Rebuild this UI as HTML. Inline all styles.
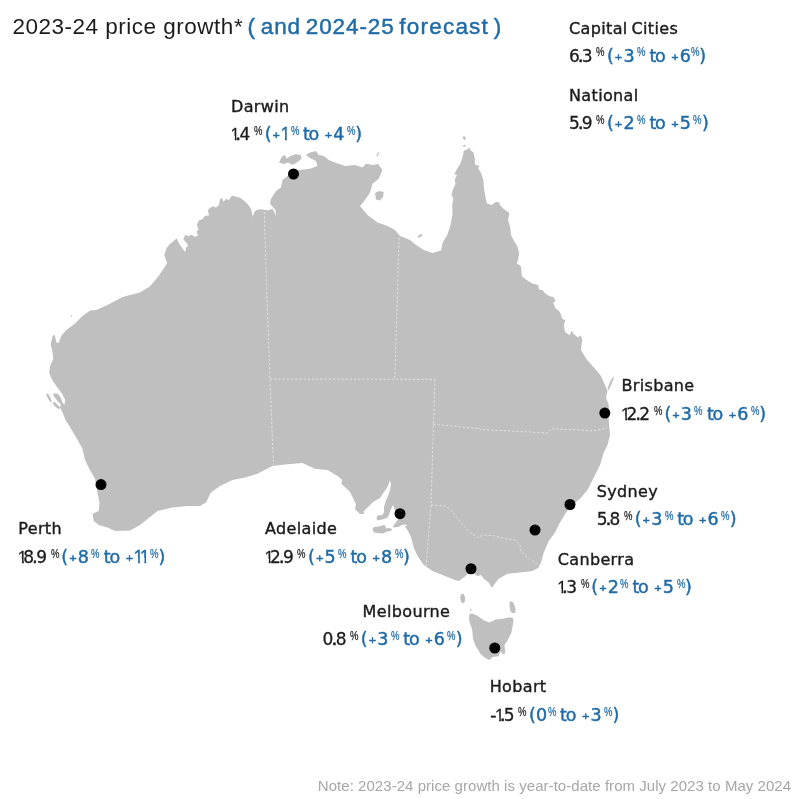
<!DOCTYPE html>
<html lang="en"><head><meta charset="utf-8"><title>2023-24 price growth</title>
<style>
html,body{margin:0;padding:0;background:#fff;}
body{width:800px;height:799px;position:relative;overflow:hidden;font-family:"Liberation Sans",Arial,sans-serif;color:#1c1c1c;}
svg{position:absolute;left:0;top:0;}
.t{position:absolute;white-space:nowrap;line-height:20px;height:20px;}
.title{left:12.5px;top:14px;font-size:22.5px;line-height:26px;height:26px;letter-spacing:0.5px;}
.blue{color:#1f6ba6;}
.title .blue{-webkit-text-stroke:0.45px #1f6ba6;margin-left:-2.3px;letter-spacing:0.9px;word-spacing:-2.4px;}
.nm{font-family:"DejaVu Sans","Liberation Sans",sans-serif;font-size:16px;letter-spacing:0.36px;word-spacing:-1.6px;-webkit-text-stroke:0.4px #1c1c1c;}
.vl{font-family:"DejaVu Sans","Liberation Sans",sans-serif;font-size:17px;letter-spacing:-0.6px;-webkit-text-stroke:0.3px #1c1c1c;}
.vl .blue{-webkit-text-stroke:0.45px #1f6ba6;margin-left:2.2px;font-size:17.5px;letter-spacing:-0.2px;}
.one{display:inline-block;font-family:"Liberation Sans",sans-serif;clip-path:polygon(0 0,0.35em 0,0.35em 100%,0.25em 100%,0.25em 55%,0 55%);margin:0 -3.4px 0 -1.2px;}
.one.f{margin-left:-0.4px;}
.one.d{margin-right:-2.6px;}
.one.o{margin-right:-2px;}
.one.e{margin-right:-2.4px;}
.zr{margin:0 0.5px;}
.dot{margin:0 -0.9px 0 -1.3px;-webkit-text-stroke:0.6px currentColor;}
.mn{margin:0 0.3px 0 0.6px;-webkit-text-stroke:0.5px #1c1c1c;}
.pc{display:inline-block;font-family:"Liberation Sans",sans-serif;font-size:13px;letter-spacing:0;position:relative;top:-5.2px;transform:scaleX(0.73);transform-origin:0 50%;margin:0 -3.15px 0 0.1px;-webkit-text-stroke:0.25px currentColor;}
.sp{font-family:"DejaVu Sans",sans-serif;font-size:8.2px;letter-spacing:0;line-height:0;-webkit-text-stroke:0;}
.pc.k{margin-left:1.7px;}
.pl{font-size:9.5px;letter-spacing:0;position:relative;top:-2px;margin:0 0.8px 0 1px;-webkit-text-stroke:0.55px #1f6ba6;}
.wd{margin:0 1.1px 0 -0.4px;letter-spacing:-1.2px;}
.note{left:317.8px;top:776px;font-size:15px;color:#a7a7a7;letter-spacing:0.045px;}
</style></head><body>

<svg width="800" height="799" viewBox="0 0 800 799">
<g fill="#bfbfbf" stroke="none">
<path d="M58.5 343 L61.5 335.5 L66 330.25 L75 323.5 L82.5 316 L90 310.5 L96.25 310 L107.5 305 L122.5 297 L140 292.5 L150 286.25 L157.5 277.5 L162.75 270 L167.25 263.25 L164.25 255 L166.5 248.25 L169.5 244.5 L174 240.75 L176.7 238.2 L178.5 242.25 L182.25 248.25 L185.25 252 L186 247.5 L188.25 246 L186 242.25 L183.3 239.25 L185.25 234.75 L188.25 236.25 L191.25 234.75 L195 236.7 L198 235.5 L196.5 231.75 L198.75 229.5 L196.8 225 L198.75 220.5 L202.5 219 L204.75 216 L209.25 215.25 L207.75 210.75 L210 207.75 L213.75 206.25 L216 207.75 L219 204.75 L219.75 199.5 L222 198 L223.5 201.75 L226.5 198.75 L228.75 200.25 L231.75 195.75 L235.5 196.5 L240 197.7 L244.5 201 L248.25 204.75 L251.25 209.25 L252.75 216.75 L254.25 212.25 L256.5 210 L261 209.25 L265.5 210 L268 210.5 L272.5 208.75 L275 213.75 L276 216 L275.5 210 L270 203.75 L271 198.75 L276 191 L281 187.5 L282.5 180 L287.5 176 L293 172 L300 170 L310 168.75 L317.5 166 L316 161 L310 158 L306 155 L310 152.5 L316 151 L318.75 155 L323.75 156 L328.75 160 L335 162.5 L345 166 L355 165 L362.5 167.5 L366 163.75 L372.5 165 L378 164 L382.5 170 L378.75 178.75 L372.5 183.75 L370 192.5 L365 200 L360 206 L367.5 215 L377.5 222.5 L387.5 226 L395 230 L400 236 L410 240 L416 245 L423.75 250 L432.5 253 L441 250.5 L442.75 242.5 L447.25 235 L450.25 226 L452.5 214 L452.2 205 L453.25 199 L451.5 194.5 L453.25 188.5 L455.5 184 L454.75 179.5 L457 175 L454.3 174.25 L457 169 L460.75 163 L463 155.5 L463.75 151 L466.75 149.5 L469.75 147.7 L470.5 150.25 L473.5 152.5 L474.7 158.5 L475 164.5 L479.5 166 L478 168.25 L481 172.75 L483.25 179.5 L484 188.5 L485.5 197.5 L487 203.5 L491.5 205 L496 202 L499 202 L499.75 205 L503.5 208.75 L509.5 213.25 L508 220 L510.25 227.5 L511 235 L514 241 L517.25 246 L519.2 253.5 L518 259.5 L516.8 263.25 L521 266.25 L521.75 276 L526.25 279.75 L532.25 283.5 L538.25 285 L539 289.5 L542.75 290.25 L545 293.25 L549.5 296.25 L553.25 297 L555.5 300.75 L553.25 303 L555.5 308.25 L560 312 L562.25 318.75 L565.25 320.25 L563.75 325.5 L565.25 332.25 L569.75 335.25 L571.25 330.75 L573.5 333.75 L578 337.5 L580.25 335.25 L582.2 339 L581 350.25 L587 359.85 L595 368.75 L601 376 L605 385 L607.5 391 L606 397.5 L608.75 405 L609 413 L608.75 420 L610 435 L607.5 445 L603.75 452.5 L600 465 L593.75 477.5 L587.5 490 L580 498.75 L572 505 L566 512.5 L560 522.5 L555 532.5 L548.75 541 L543.75 552.5 L541 562.5 L538.75 567.5 L532.5 571 L520 572.5 L507.5 573.75 L498.75 578.75 L493.75 585 L492 588 L488.75 582.5 L483.75 578.75 L481 575 L477.5 576 L473 573 L468 574 L463.75 577.5 L459 581 L455 580 L445 576 L432.5 571 L423.75 565 L417.5 556 L413.75 547.5 L411 537 L408 531 L405 526.5 L407 525.5 L406 524.5 L402 525 L398 527 L394.5 527.5 L393 526 L395.5 523 L398 519.5 L396 512 L394.5 509 L393 505 L391 509 L389 515 L387 518 L382 519.5 L377.5 520.5 L376.5 518.5 L377.5 515.5 L382.5 515 L384 512 L384 507 L385.5 502 L388 496 L390 490 L391 484 L389.7 480.5 L388 486 L384 492 L380 498 L373 502 L367 508 L363.5 511.5 L364 514 L360 514 L355 509 L356 504 L353 498 L350 492 L346 488 L341.5 484 L342 480 L340 478 L337.5 476 L327.5 470 L315 468.75 L302.5 463 L285 464.5 L272.5 466 L257.5 473.75 L245 477.5 L232.5 480 L220 486 L211 492.5 L206 502.5 L200 506 L187.5 506 L172.5 507.5 L157.5 511 L150 517 L140 525 L130 530.5 L115 531 L107.5 527.5 L98.75 525 L93.75 521 L92.5 513.75 L98.75 511 L99.5 502.5 L97.5 492.5 L95 478.75 L90 470 L85 460 L82.5 448.75 L76.25 437.5 L68.75 425 L66 421 L63 413.5 L60 407.5 L61.5 401.5 L64.5 404.5 L65.25 400 L62.25 394 L57.75 388 L52.5 380.5 L49.2 373 L50.25 365.5 L53.25 359.5 L52.5 352 L50.7 344.5 L52.5 336.25 L54.75 334.75 L56.25 342.25 Z"/>
<path d="M469.25 614.25 L472.25 613.5 L477.5 615.75 L483.5 620.25 L489.5 622.5 L495.5 619.5 L503 618.75 L510.5 617.25 L513.5 618.75 L512.75 625.5 L511.25 633 L507.5 640.5 L504.5 645 L505.25 653.25 L502.25 654 L500.75 651 L498.5 656.25 L492.5 657 L489.5 660 L485 657.75 L480.5 654 L476 646.5 L473 639 L472.25 630 L469.25 621 Z"/>
<path d="M279 162.5 L282 156.5 L285 155 L286.5 158.75 L289.5 156.5 L295.5 154.25 L300.75 155 L301.5 158.75 L297 162.5 L292.5 164.75 L288 162.5 L283.5 164 Z"/>
<path d="M375 193 L379 191 L383.75 192 L383 197 L380 200.5 L376 199.5 Z"/>
<path d="M417.5 236.5 L420 234.5 L422.5 234 L421.5 236.5 L418.5 237.8 Z"/>
<path d="M376.5 155.5 L378.5 152 L379.3 153 L377.5 156.5 Z"/>
<path d="M462.5 137 L464.5 136 L466 139 L464 140 Z"/>
<path d="M463 145.5 L465 144.5 L465.5 146.5 L463.5 147 Z"/>
<path d="M607.5 389 L609.5 383 L613 377 L614.2 377.5 L611.5 384 L608.8 390 Z"/>
<path d="M372.5 529 L374 527 L379 526.5 L384 525 L386 526.5 L385.5 528.5 L389 528 L392 529 L391 531 L387 531.5 L383 533.5 L378 533 L374 532.5 Z"/>
<path d="M460.5 600 L460.3 596.5 L461.5 594 L463.5 593.7 L465 597 L465 601 L463.5 603.3 L461.5 602.5 Z"/>
<path d="M509.5 602 L511.5 601.2 L513.5 603 L515.3 608 L515.5 612.5 L513 613.2 L510.5 611.5 L509.5 606 Z"/>
<path d="M470 609 L471.2 608.6 L471.5 611 L470.3 611.3 Z"/>
<path d="M46.2 394.3 L48 393.6 L50.4 397.75 L52 401.5 L50.25 402 L47.6 397.9 Z"/>
<path d="M52.4 402.7 L54.75 402.1 L57.75 405.1 L60.2 407.5 L58.8 409.2 L54.75 406.2 Z"/>
<path d="M53.25 393.25 L57.75 393.8 L60.75 397.75 L62.4 402.25 L60 403.9 L57 400.2 L54 396.4 Z"/>
<path d="M70.7 316.5 L71.8 315 L72.3 315.7 L71.2 317.2 Z"/>
</g>
<g fill="none" stroke="#e6e6e6" stroke-width="0.9" stroke-dasharray="2.2 2">
<path d="M264.3 212 L267 300 L270 378.5 L272.4 440 L273.6 465"/>
<path d="M399 237.5 L397 310 L394.7 378.8"/>
<path d="M270 379 L435 379.4"/>
<path d="M435 379.4 L433.5 424.4 L431 505 L426 567.5"/>
<path d="M433.5 424.4 L480 428.6 L480 429.5 L540 432.5 L547.5 433 L551 428.75 L580 430 L592.5 431 L607.5 428"/>
<path d="M431 505 L445 506 L447.5 507 L455 515 L462.5 525 L470 532.5 L477.5 537.5 L483.75 535 L495 536 L505 538.75 L515 540 L520 545 L521 551 L527.5 557.5 L540 566"/>
</g>
<g fill="#000">
<circle cx="293.5" cy="174" r="5.5"/>
<circle cx="604.8" cy="413.1" r="5.5"/>
<circle cx="570" cy="504.5" r="5.5"/>
<circle cx="535" cy="530" r="5.5"/>
<circle cx="471" cy="568.75" r="5.5"/>
<circle cx="494.75" cy="648" r="5.5"/>
<circle cx="400" cy="513.7" r="5.5"/>
<circle cx="101" cy="484.6" r="5.5"/>
</g></svg>
<div class="t title">2023-24 price growth* <span class="blue">( and 2024-25 <span style="letter-spacing:1.2px">forecast</span> )</span></div>
<div class="t nm" id="n0" style="left:569px;top:18.5px">Capital Cities</div>
<div class="t vl" id="v0" style="left:569px;top:45.6px">6<span class="dot">.</span>3<span class="sp"> </span><span class="pc k">%</span><span class="blue">(<span class="pl">+</span>3<span class="sp"> </span><span class="pc">%</span><span class="wd"> to </span><span class="pl">+</span>6<span class="pc">%</span>)</span></div>
<div class="t nm" id="n1" style="left:569px;top:86.3px">National</div>
<div class="t vl" id="v1" style="left:569px;top:113.4px">5<span class="dot">.</span>9<span class="sp"> </span><span class="pc k">%</span><span class="blue">(<span class="pl">+</span>2<span class="sp"> </span><span class="pc">%</span><span class="wd"> to </span><span class="pl">+</span>5<span class="sp"> </span><span class="pc">%</span>)</span></div>
<div class="t nm" id="n2" style="left:231px;top:97.3px">Darwin</div>
<div class="t vl" id="v2" style="left:231px;top:124px"><span class="one f d">1</span><span class="dot">.</span>4<span class="sp"> </span><span class="pc k">%</span><span class="blue">(<span class="pl">+</span><span class="one f e">1</span><span class="sp"> </span><span class="pc">%</span><span class="wd"> to </span><span class="pl">+</span>4<span class="sp"> </span><span class="pc">%</span>)</span></div>
<div class="t nm" id="n3" style="left:621.4px;top:376.4px">Brisbane</div>
<div class="t vl" id="v3" style="left:621.4px;top:404.1px"><span class="one f">1</span>2<span class="dot">.</span>2<span class="sp"> </span><span class="pc k">%</span><span class="blue">(<span class="pl">+</span>3<span class="sp"> </span><span class="pc">%</span><span class="wd"> to </span><span class="pl">+</span>6<span class="sp"> </span><span class="pc">%</span>)</span></div>
<div class="t nm" id="n4" style="left:596.75px;top:482.4px">Sydney</div>
<div class="t vl" id="v4" style="left:596.75px;top:509px">5<span class="dot">.</span>8<span class="sp"> </span><span class="pc k">%</span><span class="blue">(<span class="pl">+</span>3<span class="sp"> </span><span class="pc">%</span><span class="wd"> to </span><span class="pl">+</span>6<span class="sp"> </span><span class="pc">%</span>)</span></div>
<div class="t nm" id="n5" style="left:557.7px;top:550.3px">Canberra</div>
<div class="t vl" id="v5" style="left:557.7px;top:577px"><span class="one f d">1</span><span class="dot">.</span>3<span class="sp"> </span><span class="pc k">%</span><span class="blue">(<span class="pl">+</span>2<span class="sp" style="font-size:4.10px"> </span><span class="pc">%</span><span class="wd"> to </span><span class="pl">+</span>5<span class="sp"> </span><span class="pc">%</span>)</span></div>
<div class="t nm" id="n6" style="left:362.6px;top:601.6px">Melbourne</div>
<div class="t vl" id="v6" style="left:321.9px;top:629px"><span class="zr">0</span><span class="dot">.</span>8<span class="sp"> </span><span class="pc k">%</span><span class="blue">(<span class="pl">+</span>3<span class="sp"> </span><span class="pc">%</span><span class="wd"> to </span><span class="pl">+</span>6<span class="sp"> </span><span class="pc">%</span>)</span></div>
<div class="t nm" id="n7" style="left:489.7px;top:677.1px">Hobart</div>
<div class="t vl" id="v7" style="left:489.7px;top:704.75px"><span class="mn">-</span><span class="one d">1</span><span class="dot">.</span>5<span class="sp"> </span><span class="pc k">%</span><span class="blue">(<span class="zr">0</span><span class="pc">%</span><span class="wd"> to </span><span class="pl">+</span>3<span class="sp"> </span><span class="pc">%</span>)</span></div>
<div class="t nm" id="n8" style="left:18.25px;top:519.3px">Perth</div>
<div class="t vl" id="v8" style="left:18.25px;top:546.75px"><span class="one f">1</span>8<span class="dot">.</span>9<span class="sp"> </span><span class="pc k">%</span><span class="blue">(<span class="pl">+</span>8<span class="sp"> </span><span class="pc">%</span><span class="wd"> to </span><span class="pl">+</span><span class="one f o">1</span><span class="one e">1</span><span class="sp"> </span><span class="pc">%</span>)</span></div>
<div class="t nm" id="n9" style="left:265px;top:519.3px">Adelaide</div>
<div class="t vl" id="v9" style="left:265px;top:546.75px"><span class="one f">1</span>2<span class="dot">.</span>9<span class="sp"> </span><span class="pc k">%</span><span class="blue">(<span class="pl">+</span>5<span class="sp"> </span><span class="pc">%</span><span class="wd"> to </span><span class="pl">+</span>8<span class="sp"> </span><span class="pc">%</span>)</span></div>
<div class="t note">Note: 2023-24 price growth is year-to-date from July 2023 to May 2024</div>
</body></html>
